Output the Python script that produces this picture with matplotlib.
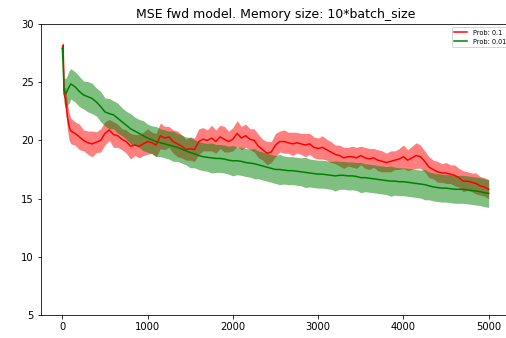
import matplotlib
matplotlib.use("Agg")
import matplotlib.pyplot as plt
import numpy as np

# training steps (first few densely sampled, then every 50)
steps = [0, 10, 20, 40, 60, 80, 100] + list(range(150, 5001, 50))

red_mean = [27.9, 28.2, 24.0, 23.5, 22.0, 21.2, 20.8,
            20.6, 20.3, 20.0, 19.8, 19.7, 19.85, 20.0, 20.6, 20.9, 20.5,
            20.4, 20.1, 19.9, 19.5, 19.6, 19.5, 19.7, 19.9, 19.8, 19.6,
            20.4, 20.2, 20.3, 19.9, 19.7, 19.5, 19.2, 19.3, 19.2, 19.9,
            20.1, 20.0, 20.2, 19.9, 20.3, 20.1, 19.9, 20.1, 20.6, 20.2,
            20.4, 20.1, 20.0, 19.5, 19.2, 18.9, 19.0, 19.6, 19.9, 19.9,
            19.8, 19.7, 19.8, 19.7, 19.6, 19.7, 19.4, 19.3, 19.4, 19.2,
            19.0, 18.8, 18.7, 18.5, 18.6, 18.6, 18.5, 18.7, 18.5, 18.4,
            18.5, 18.3, 18.2, 18.1, 18.2, 18.3, 18.4, 18.6, 18.3, 18.5,
            18.7, 18.6, 18.2, 17.7, 17.5, 17.3, 17.2, 17.2, 17.1, 17.0,
            16.8, 16.5, 16.5, 16.4, 16.3, 16.1, 16.0, 15.8]
red_std = [0.3, 0.3, 0.6, 1.0, 1.1, 1.2, 1.1,
           1.0, 1.1, 0.9, 1.0, 1.1, 0.9, 1.0, 1.0, 0.9, 1.1,
           1.0, 0.9, 1.0, 1.1, 0.9, 1.0, 1.0, 1.1, 0.9, 1.0,
           1.1, 1.0, 0.9, 1.0, 1.1, 1.0, 0.9, 1.0, 1.0, 1.1,
           1.0, 0.9, 1.1, 1.0, 1.0, 1.1, 0.9, 1.0, 1.1, 1.0,
           1.0, 0.9, 1.0, 1.0, 0.9, 1.0, 0.9, 1.0, 0.9, 1.0,
           0.9, 1.0, 0.9, 0.9, 1.0, 0.9, 0.9, 0.9, 1.0, 0.9,
           0.9, 0.8, 0.9, 0.9, 0.8, 0.9, 0.9, 0.8, 0.9, 0.9,
           0.8, 0.9, 0.9, 0.8, 0.9, 0.8, 0.9, 1.0, 0.9, 1.0,
           1.1, 1.0, 0.9, 0.9, 0.8, 0.9, 0.8, 0.9, 0.8, 0.9,
           0.8, 0.9, 0.8, 0.8, 0.9, 0.8, 0.8, 0.8]

green_mean = [27.9, 26.5, 24.3, 24.0, 24.3, 24.6, 24.85,
              24.6, 24.2, 23.9, 23.75, 23.6, 23.3, 22.9, 22.45, 22.3, 22.2,
              21.9, 21.6, 21.3, 21.0, 20.8, 20.6, 20.4, 20.2, 20.05, 19.9,
              19.8, 19.7, 19.6, 19.5, 19.4, 19.25, 19.1, 18.95, 18.85, 18.7,
              18.6, 18.55, 18.5, 18.45, 18.45, 18.4, 18.3, 18.25, 18.25, 18.2,
              18.1, 18.05, 18.0, 17.9, 17.8, 17.7, 17.6, 17.5, 17.5, 17.45,
              17.4, 17.4, 17.35, 17.3, 17.25, 17.2, 17.15, 17.1, 17.1, 17.05,
              17.0, 16.95, 17.0, 17.0, 16.95, 16.95, 16.9, 16.8, 16.8, 16.75,
              16.7, 16.65, 16.6, 16.55, 16.5, 16.5, 16.45, 16.45, 16.4, 16.35,
              16.3, 16.25, 16.2, 16.1, 16.0, 15.95, 15.9, 15.9, 15.85, 15.8,
              15.8, 15.8, 15.75, 15.7, 15.65, 15.6, 15.5, 15.45]
green_std = [0.3, 0.8, 1.1, 1.3, 1.3, 1.4, 1.3,
             1.3, 1.3, 1.2, 1.3, 1.3, 1.2, 1.3, 1.2, 1.3, 1.2,
             1.3, 1.2, 1.2, 1.3, 1.2, 1.2, 1.3, 1.2, 1.2, 1.3,
             1.2, 1.2, 1.2, 1.3, 1.2, 1.2, 1.2, 1.3, 1.2, 1.2,
             1.2, 1.2, 1.3, 1.2, 1.2, 1.2, 1.2, 1.3, 1.2, 1.2,
             1.2, 1.2, 1.3, 1.2, 1.2, 1.2, 1.2, 1.2, 1.3, 1.2,
             1.2, 1.2, 1.2, 1.2, 1.3, 1.2, 1.2, 1.2, 1.2, 1.2,
             1.2, 1.3, 1.2, 1.2, 1.2, 1.2, 1.2, 1.3, 1.2, 1.2,
             1.2, 1.2, 1.2, 1.2, 1.3, 1.2, 1.2, 1.2, 1.2, 1.2,
             1.2, 1.2, 1.3, 1.2, 1.2, 1.2, 1.2, 1.2, 1.2, 1.2,
             1.2, 1.2, 1.2, 1.2, 1.2, 1.2, 1.2, 1.2]

x = np.array(steps)
rm, rs = np.array(red_mean), np.array(red_std)
gm, gs = np.array(green_mean), np.array(green_std)

fig = plt.figure(figsize=(506 / 72, 338 / 72), dpi=72)
# axes run past the right edge, like the cropped original
ax = fig.add_axes([41 / 506, 1 - 315 / 338, 469 / 506, 291 / 338])

ax.plot(x, rm, color="red", label="Prob: 0.1")
ax.fill_between(x, rm - rs, rm + rs, color="red", alpha=0.5, linewidth=0)
ax.plot(x, gm, color="green", label="Prob: 0.01")
ax.fill_between(x, gm - gs, gm + gs, color="green", alpha=0.5, linewidth=0)

ax.set_ylim(5, 30)
ax.set_xlim(-250, 5250)
ax.set_title("MSE fwd model. Memory size: 10*batch_size", fontsize=12.5)
ax.legend(loc="upper left", bbox_to_anchor=(0.876, 0.99), borderaxespad=0,
          fontsize=6.5)

fig.savefig("out.png", dpi=72)
